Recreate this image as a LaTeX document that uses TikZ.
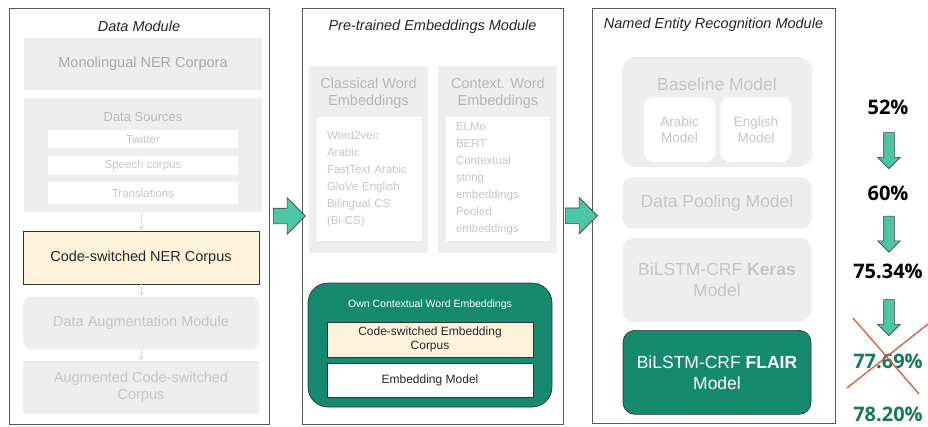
\documentclass[tikz,border=0pt]{standalone}
\usepackage{fontspec}
\setmainfont{Liberation Sans}
\newfontfamily\pctfont{Open Sans}
\usepackage{xcolor}
\usetikzlibrary{shapes.arrows, arrows.meta, positioning, calc}
\definecolor{lightbox}{HTML}{EEEEEE}
\definecolor{fadetext}{HTML}{AAAAAA}
\definecolor{paletext}{HTML}{C6C6C6}
\definecolor{creamfill}{HTML}{FFF4DB}
\definecolor{tealfill}{HTML}{168A6F}
\definecolor{arrowfill}{HTML}{4CC6A4}
\definecolor{pctgreen}{HTML}{16795D}
\definecolor{crossred}{HTML}{E0583C}
\tikzstyle{module} = [rectangle, draw=black!65, line width=0.8pt, fill=white, minimum width=260pt, minimum height=416pt, inner sep=0pt]
\tikzstyle{modtitle} = [font=\itshape\fontsize{14.5}{16}\selectfont, text=black!85]
\tikzstyle{grayblock} = [rectangle, fill=lightbox, text=fadetext, align=center, inner sep=0pt, font=\fontsize{14.5}{17}\selectfont]
\tikzstyle{whiteblock} = [rectangle, fill=white, text=paletext, inner sep=0pt, font=\fontsize{11.5}{17}\selectfont]
\tikzstyle{creamblock} = [rectangle, draw=black!80, line width=0.7pt, fill=creamfill, text=black!85, align=center, inner sep=0pt, font=\fontsize{14.5}{17}\selectfont]
\tikzstyle{tealblock} = [rectangle, rounded corners=12pt, draw=black!80, line width=0.7pt, fill=tealfill, text=white, align=center, inner sep=0pt]
\tikzstyle{fatarrow} = [single arrow, draw=black!75, line width=0.6pt, fill=arrowfill, minimum height=32pt, inner sep=7.5pt, single arrow head extend=10.5pt]
\tikzstyle{downarrow} = [single arrow, shape border rotate=270, draw=black!75, line width=0.6pt, fill=arrowfill, minimum height=36pt, inner sep=5pt, single arrow head extend=6pt]
\tikzstyle{pct} = [font=\pctfont\bfseries\fontsize{20}{22}\selectfont, inner sep=0pt]
\tikzstyle{arrow} = [line width=1pt, draw=black!12, -{Stealth[length=5pt,width=6pt]}]
\tikzstyle{crossline} = [line width=1.3pt, draw=crossred]

\begin{document}
\begin{tikzpicture}[x=1pt, y=-1pt]
    \useasboundingbox (0,0) rectangle (928,426);
    \fill [white] (0,0) rectangle (928,426);

    \node (datamod) [module] at (139,216) {};
    \node (datatitle) [modtitle] at ([yshift=-19pt]datamod.north) {Data Module};
    \node (mono) [grayblock, minimum width=238pt, minimum height=52pt] at (143,64) {Monolingual NER Corpora};
    \node (sources) [grayblock, minimum width=238pt, minimum height=114pt, below=8pt of mono] {};
    \node (srctitle) [text=fadetext!80!white, font=\fontsize{13}{15}\selectfont] at ([yshift=-19pt]sources.north) {Data Sources};
    \node (twitter) [whiteblock, align=center, font=\fontsize{11.5}{13}\selectfont, minimum width=190pt, minimum height=18pt, below=32pt of sources.north] {Twitter};
    \node (speech) [whiteblock, align=center, font=\fontsize{11.5}{13}\selectfont, minimum width=190pt, minimum height=19pt, below=7pt of twitter] {Speech corpus};
    \node (transl) [whiteblock, align=center, font=\fontsize{11.5}{13}\selectfont, minimum width=190pt, minimum height=22pt, below=7pt of speech] {Translations};
    \node (cscorpus) [creamblock, minimum width=236pt, minimum height=53pt, below=18pt of sources, xshift=-2pt] {Code-switched NER Corpus};
    \node (augment) [grayblock, text=paletext, rounded corners=9pt, minimum width=236pt, minimum height=53pt, below=12pt of cscorpus] {Data Augmentation Module};
    \node (augcorpus) [grayblock, text=paletext, minimum width=236pt, minimum height=53pt, below=11pt of augment] {Augmented Code-switched\\Corpus};
    \draw [arrow] (sources) -- (cscorpus);
    \draw [arrow] (cscorpus) -- (augment);
    \draw [arrow] (augment) -- (augcorpus);

    \node (embmod) [module, minimum width=261pt] at (432.5,216) {};
    \node (embtitle) [modtitle] at ([yshift=-19pt]embmod.north) {Pre-trained Embeddings Module};
    \node (classical) [grayblock, minimum width=119pt, minimum height=187pt] at (368.5,159.5) {};
    \node (context) [grayblock, minimum width=119pt, minimum height=187pt, right=10pt of classical] {};
    \node (classtitle) [text=fadetext!85!white, align=center, font=\fontsize{14.5}{17}\selectfont] at ([yshift=-27.5pt]classical.north) {Classical Word\\Embeddings};
    \node (ctxtitle) [text=fadetext!85!white, align=center, font=\fontsize{14.5}{17}\selectfont] at ([yshift=-27.5pt]context.north) {Context. Word\\Embeddings};
    \node (classlist) [whiteblock, align=left, text width=85pt, inner xsep=10pt, minimum height=124pt] at (369.5,179) {Word2vec\\Arabic\\FastText Arabic\\GloVe English\\Bilingual CS\\(Bi-CS)};
    \node (ctxlist) [whiteblock, align=left, text width=84pt, inner xsep=10pt, minimum height=124pt] at (498,179) {ELMo\\BERT\\Contextual\\string\\embeddings\\Pooled\\embeddings};
    \node (own) [tealblock, rounded corners=20pt, minimum width=244pt, minimum height=124pt] at (430,345) {};
    \node (owntitle) [text=white, font=\fontsize{10.5}{12}\selectfont] at ([yshift=-22pt]own.north) {Own Contextual Word Embeddings};
    \node (embcorpus) [creamblock, font=\fontsize{12}{14}\selectfont, minimum width=206pt, minimum height=35pt] at (430,339.5) {Code-switched Embedding\\Corpus};
    \node (embmodel) [creamblock, fill=white, font=\fontsize{12}{14}\selectfont, minimum width=206pt, minimum height=34pt, below=6pt of embcorpus] {Embedding Model};

    \node (nermod) [module, minimum width=243pt, minimum height=415pt] at (713.5,215.5) {};
    \node (nertitle) [modtitle] at ([yshift=-17pt]nermod.north) {Named Entity Recognition Module};
    \node (baseline) [grayblock, rounded corners=14pt, minimum width=190pt, minimum height=110pt] at (717,112) {};
    \node (basetitle) [text=paletext, font=\fontsize{17.5}{20}\selectfont] at ([yshift=-27pt]baseline.north) {Baseline Model};
    \node (arabic) [rectangle, rounded corners=10pt, fill=white, text=paletext, align=center, inner sep=0pt, font=\fontsize{13.5}{16}\selectfont, minimum width=71pt, minimum height=65pt] at (679.5,129.5) {Arabic\\Model};
    \node (english) [rectangle, rounded corners=10pt, fill=white, text=paletext, align=center, inner sep=0pt, font=\fontsize{13.5}{16}\selectfont, minimum width=71pt, minimum height=65pt, right=5pt of arabic] {English\\Model};
    \node (pooling) [grayblock, text=paletext, rounded corners=10pt, font=\fontsize{17.5}{21}\selectfont, minimum width=189pt, minimum height=51pt, below=10pt of baseline] {Data Pooling Model};
    \node (keras) [grayblock, text=paletext, rounded corners=12pt, font=\fontsize{17.5}{21}\selectfont, minimum width=189pt, minimum height=84pt, below=9pt of pooling] {BiLSTM-CRF \textbf{Keras}\\Model};
    \node (flair) [tealblock, font=\fontsize{17.5}{21}\selectfont, minimum width=188pt, minimum height=84pt, below=8pt of keras] {BiLSTM-CRF \textbf{FLAIR}\\Model};

    \node (arrowa) [fatarrow] at ($(datamod.east)!0.5!(embmod.west)$) {};
    \node (arrowb) [fatarrow] at ($(embmod.east)!0.5!(nermod.west)$) {};

    \node (pct52) [pct] at (888,107) {52\%};
    \node (pct60) [pct] at (888,193) {60\%};
    \node (pct7534) [pct] at (888,271) {75.34\%};
    \node (pct7769) [pct, text=pctgreen] at (888,361) {77.69\%};
    \node (pct7820) [pct, text=pctgreen] at (888,414) {78.20\%};
    \node (downa) [downarrow] at (889,148) {};
    \node (downb) [downarrow] at (889,231.5) {};
    \node (downc) [downarrow] at (889,315) {};
    \draw [crossline] ($(pct7769)+(-35,-43)$) -- ($(pct7769)+(31,33)$);
    \draw [crossline] ($(pct7769)+(40,-37)$) -- ($(pct7769)+(-41,27)$);
\end{tikzpicture}
\end{document}
